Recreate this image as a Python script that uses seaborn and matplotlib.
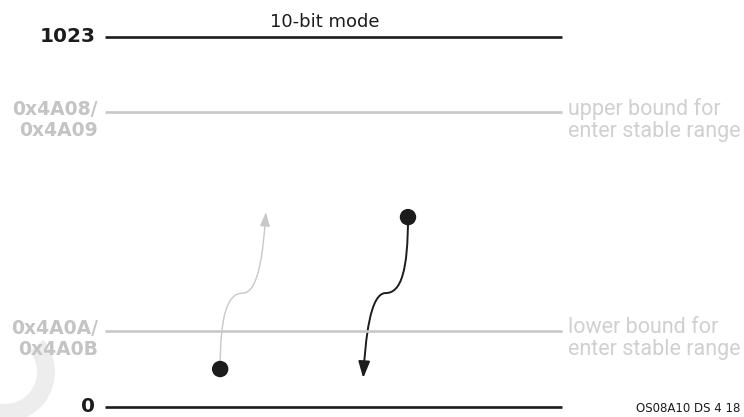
import numpy as np
import pandas as pd
import matplotlib
matplotlib.use("Agg")
import matplotlib.pyplot as plt
import seaborn as sns
from matplotlib.path import Path
from matplotlib.patches import FancyArrowPatch, Wedge

# ---- data ----
level_labels = ["0", "0x4A0A/\n0x4A0B", "0x4A08/\n0x4A09", "1023"]
level_values = [0, 210, 816, 1023]
level_kind = ["limit", "bound", "bound", "limit"]
bound_notes = ["", "lower bound for\nenter stable range", "upper bound for\nenter stable range", ""]
title_text = "10-bit mode"
footer_text = "OS08A10 DS 4 18"

trans_names = ["enter (rising)", "enter (falling)"]
trans_start_x = [25.2, 66.3]
trans_start_y = [105, 525]
trans_end_x = [35.2, 56.5]
trans_end_y = [539, 80]
trans_kink_y = [315, 315]

BLACK = "#1c1c1c"
GRAY_LINE = "#c8c8c8"
GRAY_LABEL = "#c4c4c4"
GRAY_NOTE = "#d0d0d0"
WATERMARK = "#ededed"

sns.set_theme(style="white")
plt.rcParams["font.family"] = ["DejaVu Sans"]

W, H = 744, 417
fig = plt.figure(figsize=(W / 100, H / 100), dpi=100)

# faint watermark arcs at lower left (drawn first, behind everything)
bg = fig.add_axes([0, 0, 1, 1])
bg.set_xlim(0, W)
bg.set_ylim(H, 0)
bg.axis("off")
bg.add_patch(Wedge((5, 372), 50, -40, 115, width=18, color=WATERMARK, lw=0))
bg.add_patch(Wedge((55, 445), 42, 25, 165, width=18, color=WATERMARK, lw=0))

ax = fig.add_axes([105 / W, 10 / H, (562 - 105) / W, (407 - 37) / H])
ax.set_xlim(0, 100)
ax.set_ylim(0, 1023)
ax.axis("off")
ax.patch.set_alpha(0)

# horizontal level lines
for lab, val, kind, note in zip(level_labels, level_values, level_kind, bound_notes):
    df = pd.DataFrame({"x": [0, 100], "y": [val, val]})
    col = BLACK if kind == "limit" else GRAY_LINE
    sns.lineplot(data=df, x="x", y="y", ax=ax, color=col, lw=1.9, legend=False)
    for l in ax.lines[-1:]:
        l.set_clip_on(False)
        l.set_solid_capstyle("butt")
    if kind == "limit":
        ax.annotate(lab, xy=(0, val), xytext=(-7, 0), textcoords="offset points",
                    ha="right", va="center", fontsize=14.5, fontweight="bold", color=BLACK,
                    annotation_clip=False)
    else:
        ax.annotate(lab, xy=(0, val), xytext=(-5, 8.5), textcoords="offset points",
                    ha="right", va="top", fontsize=13.5, fontweight="bold", color=GRAY_LABEL,
                    linespacing=1.1, annotation_clip=False)
        ax.annotate(note, xy=(100, val), xytext=(4, 10), textcoords="offset points",
                    ha="left", va="top", fontsize=15.5, color=GRAY_NOTE, family="Roboto",
                    linespacing=1.05, annotation_clip=False)

# transition curves
colors = [GRAY_LINE, BLACK]
lws = [1.0, 1.4]
heads = ["-|>,head_length=8.5,head_width=3.0", "-|>,head_length=10,head_width=3.5"]
for sx, sy, ex, ey, ky, c, lw, hs in zip(trans_start_x, trans_start_y, trans_end_x,
                                          trans_end_y, trans_kink_y, colors, lws, heads):
    dx = ex - sx
    kx = sx + 0.5 * dx
    verts = [
        (sx, sy),
        (sx, sy + 0.7 * (ky - sy)),
        (sx + 0.15 * dx, ky),
        (kx, ky),
        (kx + 0.35 * dx, ky),
        (ex - 0.05 * dx, ky + 0.55 * (ey - ky)),
        (ex, ey),
    ]
    codes = [Path.MOVETO] + [Path.CURVE4] * 6
    arr = FancyArrowPatch(path=Path(verts, codes), arrowstyle=hs,
                          color=c, lw=lw, shrinkA=0, shrinkB=0, clip_on=False,
                          mutation_scale=1)
    ax.add_patch(arr)

dots = pd.DataFrame({"x": trans_start_x, "y": trans_start_y, "name": trans_names})
sns.scatterplot(data=dots, x="x", y="y", ax=ax, color=BLACK, s=140, edgecolor="none",
                legend=False, zorder=5, clip_on=False)

fig.text(325 / W, 1 - 22 / H, title_text, ha="center", va="center", fontsize=13,
         color=BLACK)
fig.text(740 / W, 1 - 408 / H, footer_text, ha="right", va="center", fontsize=8.5,
         color=BLACK)

fig.savefig("out.png", dpi=100)
